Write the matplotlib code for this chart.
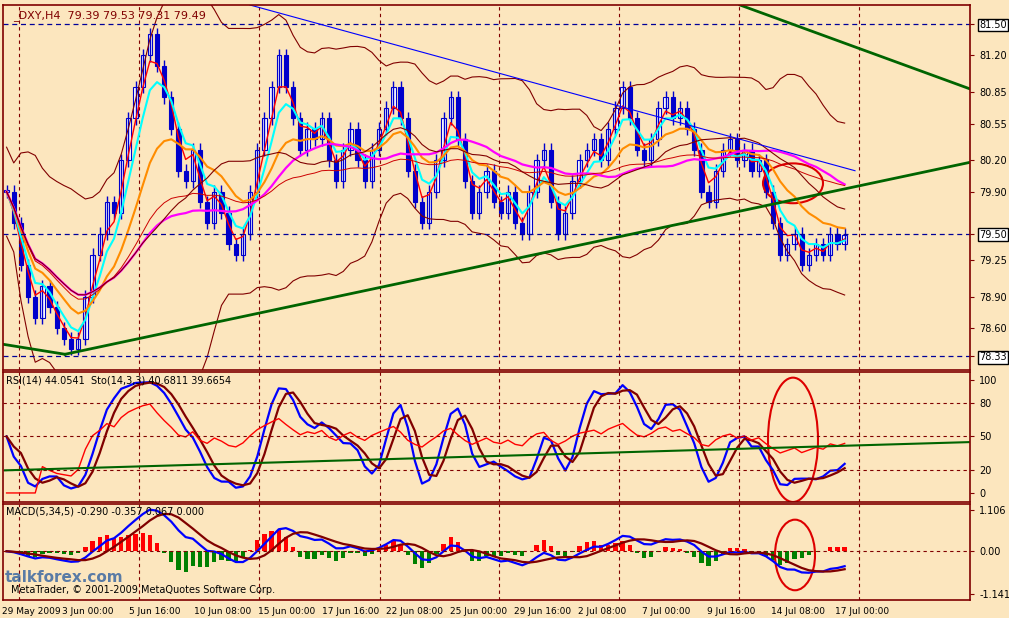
import matplotlib.pyplot as plt
import numpy as np
import pandas as pd
from matplotlib.patches import Ellipse

# 收盘价 (H4)
closes = [79.9, 79.6, 79.2, 78.9, 78.7, 79.0, 78.8, 78.6, 78.5, 78.4, 78.5,
          78.9, 79.3, 79.5, 79.8, 79.7, 80.2, 80.6, 80.9, 81.2, 81.4, 81.1,
          80.8, 80.5, 80.1, 80.0, 80.3, 79.8, 79.6, 79.9, 79.7, 79.4, 79.3, 79.5,
          79.9, 80.3, 80.6, 80.9, 81.2, 80.9, 80.6, 80.3, 80.5, 80.4,
          80.6, 80.2, 80.0, 80.3, 80.5, 80.2, 80.0, 80.3, 80.5, 80.7, 80.9, 80.6,
          80.1, 79.8, 79.6, 79.9, 80.2, 80.6, 80.8, 80.4, 80.0, 79.7,
          79.9, 80.1, 79.8, 79.7, 79.9, 79.6, 79.5, 79.9, 80.2, 80.3, 79.8, 79.5,
          79.7, 80.0, 80.2, 80.3, 80.4, 80.2, 80.5, 80.7, 80.9, 80.6, 80.3, 80.2,
          80.4, 80.7, 80.8, 80.6, 80.7, 80.5, 80.3, 79.9, 79.8, 80.1, 80.3, 80.4,
          80.2, 80.3, 80.1, 80.2, 79.9, 79.6, 79.3, 79.4, 79.5, 79.2, 79.3, 79.4,
          79.3, 79.5, 79.4, 79.49]
price_levels = [78.60, 78.90, 79.25, 79.90, 80.20, 80.55, 80.85, 81.20]
date_labels = ['29 May 2009', '3 Jun 00:00', '5 Jun 16:00', '10 Jun 08:00', '15 Jun 00:00',
               '17 Jun 16:00', '22 Jun 08:00', '25 Jun 00:00', '29 Jun 16:00', '2 Jul 08:00',
               '7 Jul 00:00', '9 Jul 16:00', '14 Jul 08:00', '17 Jul 00:00']
date_px = [2, 62, 129, 194, 258, 322, 386, 450, 514, 578, 642, 707, 771, 835]
vline_px = [19, 139, 259, 380, 499, 619, 739, 859]

bg = '#FCE6BE'
frame = '#800000'
c = pd.Series(closes)
o = c.shift(1).fillna(c[0])
hi = np.maximum(o, c) + 0.06
lo = np.minimum(o, c) - 0.06
n = len(c)

fig = plt.figure(figsize=(10.09, 6.18), dpi=100, facecolor=bg)
W, H = 1009, 618
L, R = 3 / W, 970 / W
ax1 = fig.add_axes([L, 1 - 370 / H, R - L, 365 / H])
ax2 = fig.add_axes([L, 1 - 502 / H, R - L, 130 / H])
ax3 = fig.add_axes([L, 1 - 600 / H, R - L, 96 / H])
xmin, xmax = -0.5, 134.5
def px2x(p):
    return xmin + (p - 3) / (967) * (xmax - xmin)

for ax in (ax1, ax2, ax3):
    ax.set_facecolor(bg)
    for s in ax.spines.values():
        s.set_color(frame)
        s.set_linewidth(1.2)
    ax.set_xlim(xmin, xmax)
    ax.yaxis.tick_right()
    ax.tick_params(axis='y', labelsize=7, colors='black', length=3, color=frame)
    ax.tick_params(axis='x', length=0, labelbottom=False)
    for p in vline_px:
        ax.axvline(px2x(p), color=frame, ls=(0, (3, 3)), lw=0.8)

# 主图
ax1.set_ylim(78.2, 81.68)
x = np.arange(n)
for i in range(n):
    ax1.vlines(i, lo[i], hi[i], color='#0000CC', lw=1)
    up = c[i] >= o[i]
    ax1.bar(i, max(abs(c[i] - o[i]), 0.02), bottom=min(c[i], o[i]), width=0.6,
            color='white' if up else '#0000CC', edgecolor='#0000CC', lw=0.8)
ax1.plot(x, c.ewm(span=3).mean(), color='red', lw=1)
ax1.plot(x, c.ewm(span=5).mean(), color='cyan', lw=1.5)
ax1.plot(x, c.ewm(span=13).mean(), color='#FF8C00', lw=1.5)
ax1.plot(x, c.rolling(30, min_periods=1).mean(), color='#FF00FF', lw=1.6)
ax1.plot(x, c.ewm(span=60).mean(), color='#CC0000', lw=0.7)
mb = c.rolling(20, min_periods=1).mean()
sd = c.rolling(20, min_periods=2).std().bfill()
ax1.plot(x, mb + 2 * sd, color='#800000', lw=0.8)
ax1.plot(x, mb - 2 * sd, color='#800000', lw=0.8)
ax1.plot(x, mb, color='#800000', lw=0.8)
for lv in (81.50, 79.50, 78.33):
    ax1.axhline(lv, color='#000099', ls=(0, (4, 3)), lw=0.9)
ax1.plot([px2x(0), px2x(65)], [78.45, 78.35], color='#006400', lw=2)
ax1.plot([px2x(65), px2x(970)], [78.35, 80.18], color='#006400', lw=2)
ax1.plot([px2x(740), px2x(970)], [81.68, 80.88], color='#006400', lw=2)
ax1.plot([px2x(250), px2x(855)], [81.68, 80.10], color='blue', lw=0.8)
ax1.add_patch(Ellipse((px2x(793), 79.98), px2x(853) - px2x(793), 0.38,
                      fill=False, color='#DD0000', lw=1.5))
ax1.set_yticks(price_levels + [81.50, 79.50, 78.33])
ax1.set_yticklabels([f'{v:.2f}' for v in price_levels] + ['81.50', '79.50', '78.33'])
for lab in ax1.get_yticklabels()[-3:]:
    lab.set_bbox(dict(facecolor='white', edgecolor='black', pad=1))
ax1.text(0.01, 0.985, '_DXY,H4  79.39 79.53 79.31 79.49', transform=ax1.transAxes,
         fontsize=8, color='#800000', va='top')

# RSI / Stoch
d = c.diff().fillna(0)
gain = d.clip(lower=0).ewm(alpha=1 / 14).mean()
loss = (-d.clip(upper=0)).ewm(alpha=1 / 14).mean()
rsi = 100 - 100 / (1 + gain / loss.replace(0, 1e-9))
ll = pd.Series(lo).rolling(14, min_periods=1).min()
hh = pd.Series(hi).rolling(14, min_periods=1).max()
k = (100 * (c - ll) / (hh - ll)).rolling(3, min_periods=1).mean()
dl = k.rolling(3, min_periods=1).mean()
ax2.set_ylim(-8, 107)
ax2.plot(x, k, color='blue', lw=1.6)
ax2.plot(x, dl, color='#800000', lw=1.6)
ax2.plot(x, rsi, color='red', lw=1)
for lv in (80, 50, 20):
    ax2.axhline(lv, color=frame, ls=(0, (3, 3)), lw=0.8)
ax2.plot([px2x(5), px2x(970)], [20, 45], color='#006400', lw=1.5)
ax2.add_patch(Ellipse((px2x(793), 47), px2x(818) - px2x(768), 110,
                      fill=False, color='#DD0000', lw=1.5))
ax2.set_yticks([0, 20, 50, 80, 100])
ax2.text(0.003, 0.97, 'RSI(14) 44.0541  Sto(14,3,3) 40.6811 39.6654',
         transform=ax2.transAxes, fontsize=7, va='top')

# MACD
macd = c.ewm(span=5).mean() - c.ewm(span=34).mean()
sig = macd.rolling(5, min_periods=1).mean()
hist = macd - sig
ax3.set_ylim(-1.141 * 1.15, 1.106 * 1.15)
ax3.bar(x, hist * 1.5, width=0.6, color=np.where(hist >= 0, 'red', 'green'))
ax3.plot(x, macd, color='blue', lw=1.6)
ax3.plot(x, sig, color='#800000', lw=1.6)
ax3.axhline(0, color=frame, ls=(0, (3, 3)), lw=0.8)
ax3.add_patch(Ellipse((px2x(795), -0.1), px2x(815) - px2x(775), 1.9,
                      fill=False, color='#DD0000', lw=1.5))
ax3.set_yticks([1.106, 0.0, -1.141])
ax3.set_yticklabels(['1.106', '0.00', '-1.141'])
ax3.text(0.003, 0.97, 'MACD(5,34,5) -0.290 -0.357 0.067 0.000',
         transform=ax3.transAxes, fontsize=7, va='top')
ax3.text(0.008, 0.05, 'MetaTrader, © 2001-2009 MetaQuotes Software Corp.',
         transform=ax3.transAxes, fontsize=7, va='bottom')

for lab, p in zip(date_labels, date_px):
    fig.text(p / W, 1 - 611 / H, lab, fontsize=6.5, va='center', ha='left')
fig.text(5 / W, 1 - 577 / H, 'talkforex.com', fontsize=11, color='#3060A0',
         fontweight='bold', va='center', alpha=0.8)

fig.savefig('out.png', dpi=100, facecolor=bg)
